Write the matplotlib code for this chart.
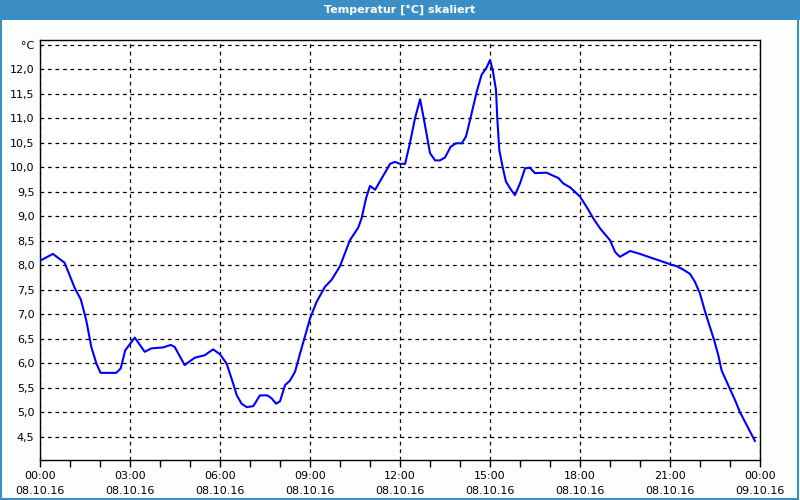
import datetime as dt
import matplotlib
matplotlib.use('Agg')
from matplotlib import pyplot as plt
from matplotlib.patches import Rectangle
import matplotlib.dates as mdates

# hours since 08.10.16 00:00 and temperature in °C
hours = [0.0, 0.43, 0.82, 1.16, 1.36, 1.54, 1.71, 1.88, 2.02, 2.54, 2.69, 2.84, 3.16,
         3.49, 3.71, 4.1, 4.36, 4.49, 4.82, 5.16, 5.49, 5.77, 6.0, 6.22, 6.44, 6.56,
         6.72, 6.89, 7.11, 7.33, 7.58, 7.72, 7.87, 8.0, 8.17, 8.33, 8.5, 8.67, 8.83,
         9.0, 9.22, 9.5, 9.72, 10.0, 10.33, 10.61, 10.72, 10.87, 11.0, 11.17, 11.33,
         11.67, 11.83, 12.0, 12.17, 12.33, 12.5, 12.67, 12.83, 13.0, 13.17, 13.33,
         13.5, 13.69, 13.87, 14.06, 14.2, 14.36, 14.56, 14.72, 14.89, 15.0, 15.09,
         15.2, 15.24, 15.31, 15.42, 15.53, 15.69, 15.83, 16.0, 16.17, 16.33, 16.5,
         16.89, 17.06, 17.28, 17.44, 17.67, 18.0, 18.22, 18.44, 18.67, 19.0, 19.17,
         19.33, 19.67, 20.0, 20.33, 20.67, 21.0, 21.22, 21.44, 21.67, 21.83, 22.0,
         22.17, 22.33, 22.47, 22.61, 22.72, 22.94, 23.17, 23.33, 23.56, 23.83]
temps = [8.09, 8.23, 8.05, 7.53, 7.30, 6.88, 6.33, 5.99, 5.80, 5.80, 5.89, 6.26, 6.52,
         6.23, 6.30, 6.32, 6.37, 6.33, 5.96, 6.11, 6.16, 6.28, 6.18, 5.99, 5.58, 5.34,
         5.17, 5.10, 5.12, 5.34, 5.34, 5.28, 5.17, 5.22, 5.55, 5.64, 5.82, 6.20, 6.54,
         6.91, 7.25, 7.56, 7.70, 7.98, 8.51, 8.77, 8.96, 9.37, 9.62, 9.54, 9.71,
         10.07, 10.11, 10.07, 10.07, 10.49, 11.00, 11.39, 10.87, 10.29, 10.14, 10.14,
         10.20, 10.42, 10.49, 10.49, 10.63, 11.03, 11.55, 11.89, 12.04, 12.19, 11.99,
         11.58, 11.03, 10.35, 10.01, 9.71, 9.55, 9.43, 9.67, 9.98, 9.99, 9.88,
         9.89, 9.84, 9.78, 9.67, 9.59, 9.40, 9.19, 8.96, 8.75, 8.51, 8.27,
         8.17, 8.29, 8.23, 8.16, 8.09, 8.02, 7.98, 7.91, 7.82, 7.66, 7.42,
         7.05, 6.74, 6.47, 6.16, 5.85, 5.55, 5.24, 5.00, 4.73, 4.41]

start = dt.datetime(2016, 10, 8)
times = [start + dt.timedelta(hours=h) for h in hours]
yticks = [4.5 + 0.5 * i for i in range(17)]

title_blue = '#3c8fc5'
fig = plt.figure(figsize=(8, 5), dpi=100, facecolor='#fcfefc')

# window frame and title bar
fig.patches.append(Rectangle((0, 0.96), 1, 0.04, transform=fig.transFigure,
                             facecolor=title_blue, edgecolor='none', zorder=0))
fig.patches.append(Rectangle((0.001, 0.003), 0.996, 0.99, transform=fig.transFigure,
                             facecolor='none', edgecolor=title_blue, lw=1.5, zorder=0))
fig.text(0.5, 0.98, 'Temperatur [°C] skaliert', color='white', fontsize=8,
         fontweight='bold', ha='center', va='center')

ax = fig.add_axes([0.05, 0.08, 0.90, 0.84])
ax.set_facecolor('white')
ax.plot(times, temps, color='#0000ff', lw=1.5, zorder=3)

ax.set_xlim(start, start + dt.timedelta(hours=24))
ax.set_ylim(4.02, 12.6)
ax.set_yticks(yticks)
ax.set_yticklabels([f'{v:.1f}'.replace('.', ',') for v in yticks[:-1]] + ['°C'])

ax.xaxis.set_major_locator(mdates.HourLocator(byhour=range(0, 24, 3)))
ax.xaxis.set_minor_locator(mdates.HourLocator())
ax.xaxis.set_major_formatter(mdates.DateFormatter('%H:%M\n%d.%m.%y'))
for lab in ax.get_xticklabels():
    lab.set_linespacing(1.55)

ax.tick_params(axis='x', which='both', direction='out', length=5, width=1,
               labelsize=8, pad=3)
ax.tick_params(axis='y', length=0, labelsize=8, pad=4)
ax.grid(True, which='major', color='black', linestyle=(0, (3, 3)), lw=0.9)
for s in ax.spines.values():
    s.set_color('black')
    s.set_linewidth(1)

plt.savefig('out.png', dpi=100, facecolor=fig.get_facecolor())
